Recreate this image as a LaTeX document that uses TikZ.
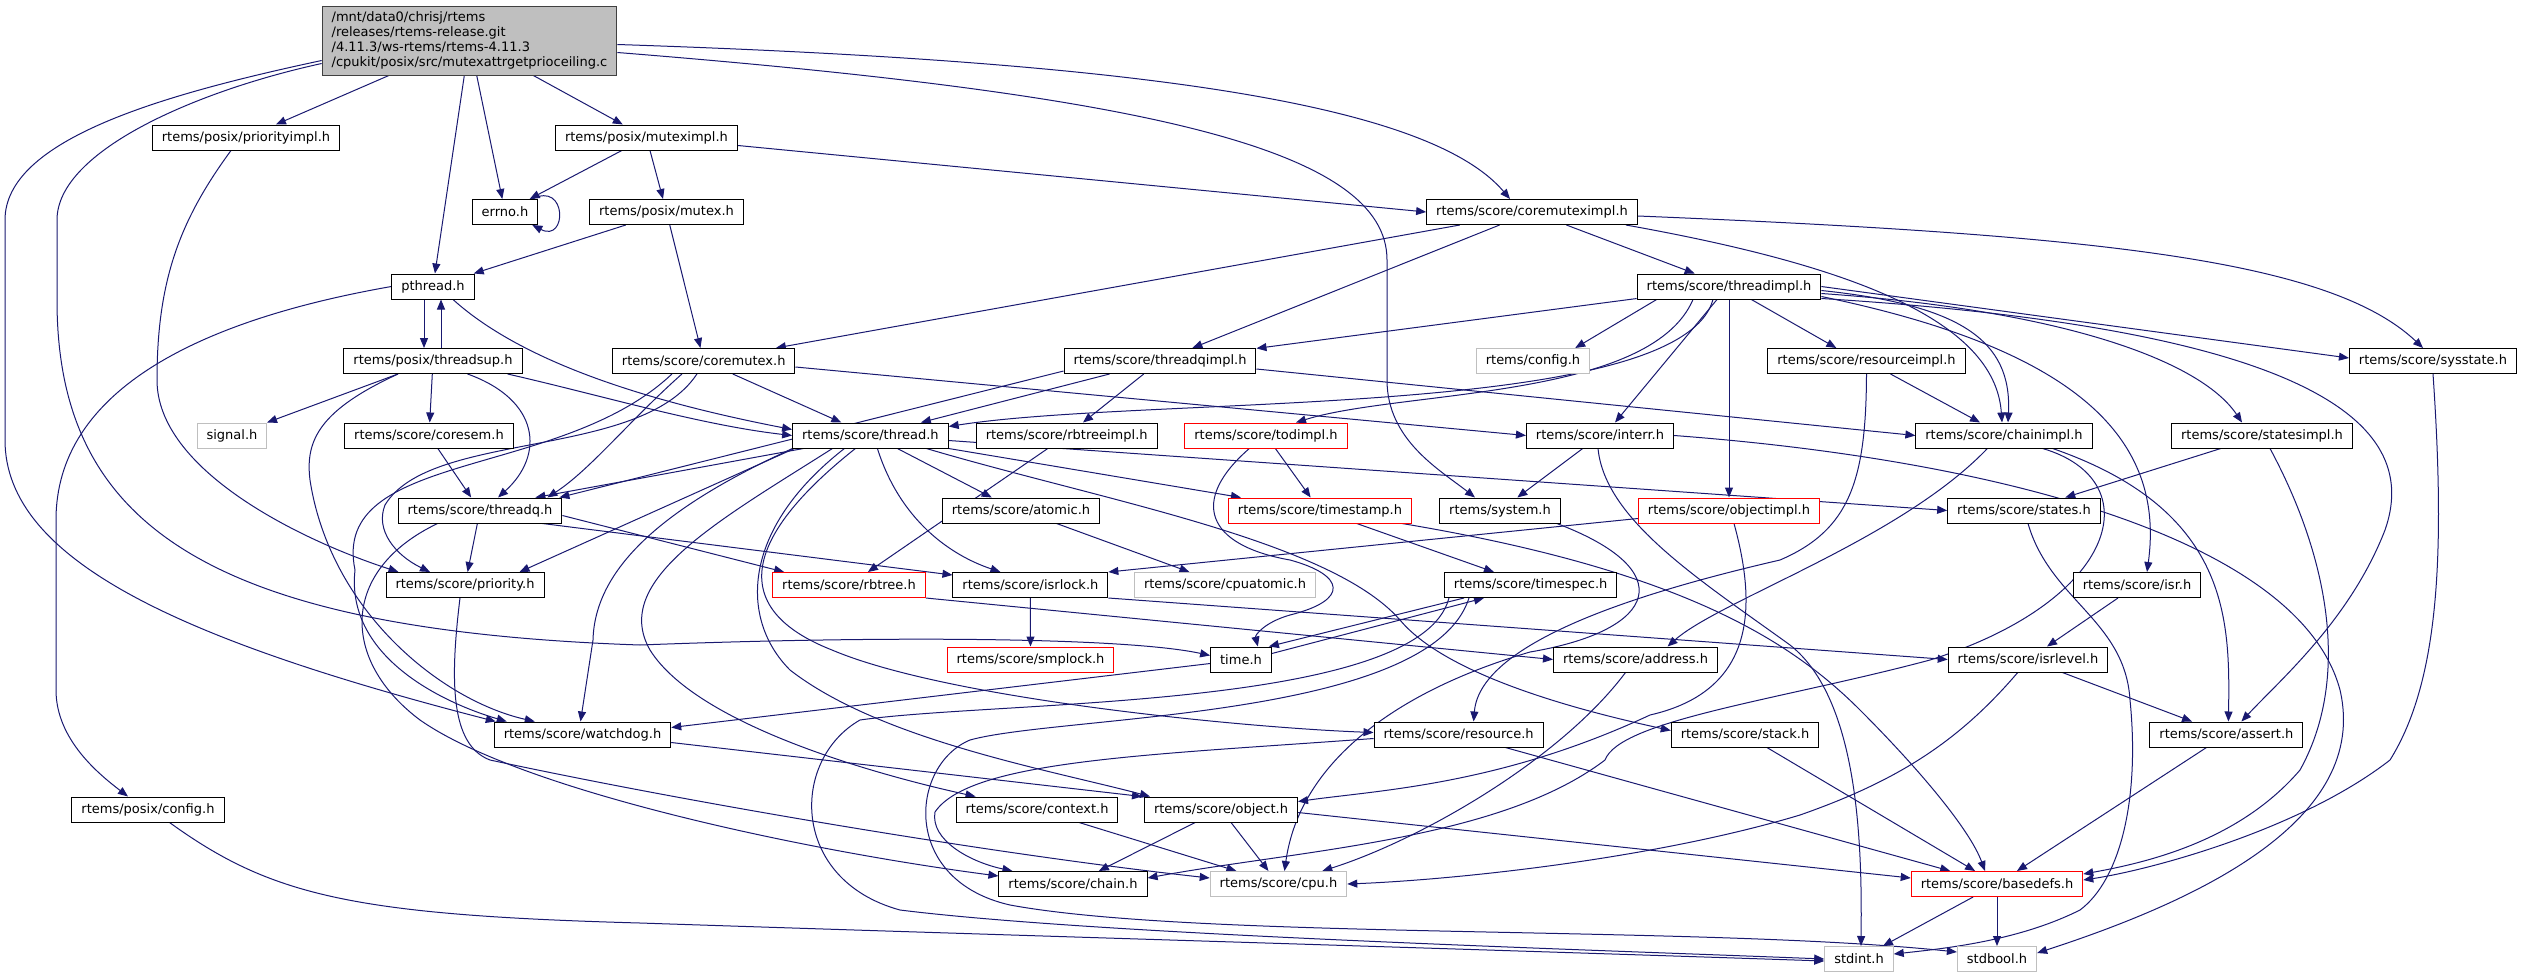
\documentclass[tikz,border=0pt]{standalone}
\usepackage{fontspec}
\setmainfont{DejaVu Sans}
\usetikzlibrary{arrows.meta,calc,backgrounds}
\definecolor{edgeblue}{RGB}{25, 25, 112}
\definecolor{nodegray}{RGB}{191, 191, 191}
\definecolor{nodered}{RGB}{255, 0, 0}
\definecolor{srcborder}{RGB}{64, 64, 64}

\begin{document}
\begin{tikzpicture}[
    x=1pt, y=-1pt,
    header/.style={rectangle, draw=black, line width=1pt, fill=white, minimum height=25pt, inner xsep=9.5pt, inner ysep=0pt, font=\fontsize{13}{14.8}\selectfont, text=black},
    sysheader/.style={header, draw=nodegray},
    partial/.style={header, draw=nodered},
    source/.style={header, draw=srcborder, fill=nodegray, align=left, minimum height=69pt},
    incl/.style={-{Triangle[length=10pt, width=8pt]}, draw=edgeblue, line width=1pt}
  ]
  \useasboundingbox (0,0) rectangle (2524,977);

  % Source file
  \node[source] (src) at (469.5, 40.5) {/mnt/data0/chrisj/rtems\\/releases/rtems-release.git\\/4.11.3/ws-rtems/rtems-4.11.3\\/cpukit/posix/src/mutexattrgetprioceiling.c};

  % POSIX headers
  \node[header] (prio_impl) at (246, 137.5) {rtems/posix/priorityimpl.h};
  \node[header] (mutex_impl) at (646.5, 137.5) {rtems/posix/muteximpl.h};
  \node[header] (errno) at (505, 212) {errno.h};
  \node[header] (posix_mutex) at (666.5, 212) {rtems/posix/mutex.h};
  \node[header] (coremutex_impl) at (1532, 212) {rtems/score/coremuteximpl.h};
  \node[header] (pthread) at (433, 286.5) {pthread.h};
  \node[header] (thread_impl) at (1729, 286.5) {rtems/score/threadimpl.h};

  % Row 4
  \node[header] (threadsup) at (433, 361) {rtems/posix/threadsup.h};
  \node[header] (coremutex) at (703.7, 361) {rtems/score/coremutex.h};
  \node[header] (threadq_impl) at (1160, 361) {rtems/score/threadqimpl.h};
  \node[sysheader] (rtems_config) at (1533, 361) {rtems/config.h};
  \node[header] (resource_impl) at (1866.5, 361) {rtems/score/resourceimpl.h};
  \node[header] (sysstate) at (2433, 361) {rtems/score/sysstate.h};

  % Row 5
  \node[sysheader] (signal) at (232, 435.5) {signal.h};
  \node[header] (coresem) at (429, 435.5) {rtems/score/coresem.h};
  \node[header] (thread) at (870.4, 435.5) {rtems/score/thread.h};
  \node[header] (rbtree_impl) at (1066.7, 435.5) {rtems/score/rbtreeimpl.h};
  \node[partial] (tod_impl) at (1266, 435.5) {rtems/score/todimpl.h};
  \node[header] (interr) at (1600, 435.5) {rtems/score/interr.h};
  \node[header] (chain_impl) at (2004, 435.5) {rtems/score/chainimpl.h};
  \node[header] (states_impl) at (2262, 435.5) {rtems/score/statesimpl.h};

  % Row 6
  \node[header] (threadq) at (480, 510.5) {rtems/score/threadq.h};
  \node[header] (atomic) at (1021, 510.5) {rtems/score/atomic.h};
  \node[partial] (timestamp) at (1320, 510.5) {rtems/score/timestamp.h};
  \node[header] (system) at (1500, 510.5) {rtems/system.h};
  \node[partial] (object_impl) at (1729, 510.5) {rtems/score/objectimpl.h};
  \node[header] (states) at (2024, 510.5) {rtems/score/states.h};

  % Row 7
  \node[header] (priority) at (465, 585) {rtems/score/priority.h};
  \node[partial] (rbtree) at (849, 585) {rtems/score/rbtree.h};
  \node[header] (isrlock) at (1030.4, 585) {rtems/score/isrlock.h};
  \node[sysheader] (cpuatomic) at (1225, 585) {rtems/score/cpuatomic.h};
  \node[header] (timespec) at (1530.7, 585) {rtems/score/timespec.h};
  \node[header] (isr) at (2137, 585) {rtems/score/isr.h};

  % Row 8
  \node[partial] (smplock) at (1030.5, 659.5) {rtems/score/smplock.h};
  \node[header] (time) at (1241, 659.5) {time.h};
  \node[header] (address) at (1635.5, 659.5) {rtems/score/address.h};
  \node[header] (isrlevel) at (2028, 659.5) {rtems/score/isrlevel.h};

  % Row 9
  \node[header] (watchdog) at (582.5, 734.5) {rtems/score/watchdog.h};
  \node[header] (resource) at (1458.6, 734.5) {rtems/score/resource.h};
  \node[header] (stack) at (1745, 734.5) {rtems/score/stack.h};
  \node[header] (assert) at (2226.4, 734.5) {rtems/score/assert.h};

  % Row 10 and below
  \node[header] (posix_config) at (148, 809.5) {rtems/posix/config.h};
  \node[header] (context) at (1037, 809.5) {rtems/score/context.h};
  \node[header] (object) at (1221, 809.5) {rtems/score/object.h};
  \node[header] (chain) at (1073, 884) {rtems/score/chain.h};
  \node[sysheader] (cpu) at (1278.5, 884) {rtems/score/cpu.h};
  \node[partial] (basedefs) at (1997, 884) {rtems/score/basedefs.h};
  \node[sysheader] (stdint) at (1859, 959) {stdint.h};
  \node[sysheader] (stdbool) at (1997, 959) {stdbool.h};

  \begin{scope}[on background layer]
  % Includes of the source file
  \draw[incl] (src) -- (prio_impl);
  \draw[incl] (src) -- (pthread);
  \draw[incl] (src) -- (errno);
  \draw[incl] (src) -- (mutex_impl);
  \draw[incl] ($(src.east)+(0,4)$) .. controls (1150,62) and (1430,105) .. ($(coremutex_impl.north)+(-22,0)$);
  \draw[incl] ($(src.east)+(0,12)$) .. controls (1150,95) and (1387,150) .. (1387,260) -- (1387,380) .. controls (1387,440) and (1440,470) .. ($(system.north)+(-25,0)$);
  \draw[incl] ($(src.west)+(0,20)$) .. controls (160,95) and (5,140) .. (5,220) -- (5,440) .. controls (5,560) and (180,640) .. ($(watchdog.north west)+(2,0)$);
  \draw[incl] ($(src.west)+(0,23)$) .. controls (200,90) and (57,150) .. (57,220) -- (57,300) .. controls (57,520) and (200,630) .. (640,645) .. controls (900,635) and (1130,638) .. ($(time.west)+(0,-4)$);

  % errno includes itself
  \draw[incl] ($(errno.north east)+(-6,0)$) .. controls +(35,-18) and +(35,18) .. ($(errno.south east)+(-6,0)$);

  % POSIX layer
  \draw[incl] ($(prio_impl.south)+(-15,0)$) .. controls (180,220) and (157,280) .. (157,380) .. controls (157,470) and (300,540) .. ($(priority.north west)+(13,0)$);
  \draw[incl] (mutex_impl) -- (errno);
  \draw[incl] (mutex_impl) -- (posix_mutex);
  \draw[incl] ($(mutex_impl.east)+(0,8)$) -- (coremutex_impl.west);
  \draw[incl] (posix_mutex) -- (pthread);
  \draw[incl] (posix_mutex) -- (coremutex);
  \draw[incl] ($(pthread.south)+(-9,0)$) -- ($(threadsup.north)+(-9,0)$);
  \draw[incl] ($(threadsup.north)+(8,0)$) -- ($(pthread.south)+(8,0)$);
  \draw[incl] ($(pthread.south)+(20,0)$) .. controls (520,360) and (640,400) .. ($(thread.west)+(0,-6)$);
  \draw[incl] (pthread.west) .. controls (200,320) and (56,390) .. (56,520) -- (56,690) .. controls (56,740) and (100,775) .. ($(posix_config.north)+(-20,0)$);
  \draw[incl] (threadsup) -- (signal);
  \draw[incl] (threadsup) -- (coresem);
  \draw[incl] ($(threadsup.south east)+(-55,0)$) .. controls (540,400) and (545,455) .. ($(threadq.north)+(18,0)$);
  \draw[incl] ($(threadsup.south east)+(-15,0)$) .. controls (600,395) and (700,425) .. (thread.west);
  \draw[incl] ($(threadsup.south)+(-35,0)$) .. controls (320,410) and (305,440) .. (310,480) .. controls (330,610) and (440,700) .. ($(watchdog.north west)+(41,0)$);
  \draw[incl] (coresem) -- (threadq);

  % Core mutex
  \draw[incl] (coremutex_impl) -- (coremutex);
  \draw[incl] (coremutex_impl) -- (threadq_impl);
  \draw[incl] (coremutex_impl) -- (thread_impl);
  \draw[incl] ($(coremutex_impl.south east)+(-12,0)$) .. controls (1850,265) and (1995,320) .. ($(chain_impl.north)+(-2,0)$);
  \draw[incl] ($(coremutex_impl.east)+(0,4)$) .. controls (2100,235) and (2330,260) .. ($(sysstate.north)+(-10,0)$);
  \draw[incl] (coremutex) -- (thread);
  \draw[incl] ($(coremutex.south west)+(70,0)$) .. controls (630,420) and (590,470) .. ($(threadq.north east)+(-15,0)$);
  \draw[incl] ($(coremutex.south west)+(85,0)$) .. controls (640,460) and (430,430) .. (385,505) .. controls (375,530) and (395,555) .. ($(priority.north)+(-35,0)$);
  \draw[incl] ($(coremutex.south west)+(60,0)$) .. controls (560,480) and (330,450) .. (355,570) .. controls (345,660) and (450,705) .. ($(watchdog.north west)+(13,0)$);
  \draw[incl] ($(coremutex.east)+(0,6)$) -- (interr.west);

  % Thread queue impl
  \draw[incl] (threadq_impl) -- (thread);
  \draw[incl] (threadq_impl) -- (rbtree_impl);
  \draw[incl] ($(threadq_impl.west)+(0,10)$) -- ($(threadq.north east)+(-3,0)$);
  \draw[incl] ($(threadq_impl.east)+(0,8)$) -- (chain_impl.west);

  % Thread impl
  \draw[incl] ($(thread_impl.south)+(-16,0)$) .. controls (1680,420) and (1150,395) .. ($(thread.north east)+(0,4)$);
  \draw[incl] (thread_impl) -- (threadq_impl);
  \draw[incl] ($(thread_impl.south west)+(20,0)$) -- ($(rtems_config.north east)+(-15,0)$);
  \draw[incl] ($(thread_impl.south)+(-36,0)$) .. controls (1650,400) and (1400,390) .. ($(tod_impl.north)+(30,0)$);
  \draw[incl] ($(thread_impl.south)+(-12,0)$) -- ($(interr.north)+(15,0)$);
  \draw[incl] (thread_impl) -- (object_impl);
  \draw[incl] ($(thread_impl.south east)+(-70,0)$) -- ($(resource_impl.north west)+(69,0)$);
  \draw[incl] ($(thread_impl.east)+(0,4)$) .. controls (1960,305) and (2012,340) .. ($(chain_impl.north)+(4,0)$);
  \draw[incl] ($(thread_impl.east)+(0,7)$) .. controls (2060,310) and (2200,360) .. ($(states_impl.north)+(-20,0)$);
  \draw[incl] (thread_impl.east) -- ($(sysstate.west)+(0,-3)$);
  \draw[incl] ($(thread_impl.east)+(0,10)$) .. controls (2080,350) and (2165,440) .. ($(isr.north)+(10,0)$);
  \draw[incl] ($(thread_impl.east)+(0,12)$) .. controls (2330,330) and (2420,430) .. (2385,530) .. controls (2350,620) and (2280,680) .. ($(assert.north)+(15,0)$);

  % Resource impl and system state
  \draw[incl] (resource_impl) -- (chain_impl);
  \draw[incl] (resource_impl.south) .. controls (1866,480) and (1850,530) .. (1780,560) .. controls (1650,590) and (1480,640) .. ($(resource.north)+(15,0)$);
  \draw[incl] (sysstate.south) .. controls (2445,550) and (2440,680) .. (2390,760) .. controls (2300,830) and (2150,870) .. ($(basedefs.east)+(0,-4)$);

  % Thread
  \draw[incl] ($(thread.south)+(-78,0)$) .. controls (680,500) and (595,560) .. (593,640) -- ($(watchdog.north)+(-2,0)$);
  \draw[incl] ($(thread.south)+(-76,0)$) -- ($(priority.north east)+(-25,0)$);
  \draw[incl] ($(thread.south)+(-67,0)$) -- ($(threadq.north east)+(-27,0)$);
  \draw[incl] ($(thread.south)+(-38,0)$) .. controls (720,520) and (610,580) .. (650,650) .. controls (700,730) and (900,780) .. ($(context.north west)+(20,0)$);
  \draw[incl] ($(thread.south)+(-26,0)$) .. controls (740,530) and (740,620) .. (790,670) .. controls (880,740) and (1050,770) .. ($(object.north west)+(6,0)$);
  \draw[incl] ($(thread.south)+(-15,0)$) .. controls (740,540) and (730,610) .. (832,650) .. controls (950,700) and (1250,728) .. ($(resource.west)+(0,-2)$);
  \draw[incl] ($(thread.south)+(7,0)$) .. controls (900,520) and (950,555) .. ($(isrlock.north west)+(48,0)$);
  \draw[incl] ($(thread.south)+(27,0)$) -- ($(atomic.north west)+(50,0)$);
  \draw[incl] ($(thread.south)+(56,0)$) .. controls (1100,500) and (1330,540) .. (1400,620) .. controls (1450,680) and (1600,715) .. ($(stack.west)+(0,-4)$);
  \draw[incl] (thread.south east) -- ($(timestamp.north west)+(13,0)$);
  \draw[incl] ($(thread.east)+(0,5)$) -- (states.west);

  % Thread queue
  \draw[incl] (threadq) -- (priority);
  \draw[incl] ($(threadq.east)+(0,5)$) -- ($(rbtree.north west)+(12,0)$);
  \draw[incl] ($(threadq.south east)+(-20,0)$) -- ($(isrlock.west)+(0,-10)$);
  \draw[incl] ($(threadq.south west)+(40,0)$) .. controls (340,570) and (340,660) .. (420,720) .. controls (520,790) and (800,850) .. ($(chain.west)+(0,-8)$);
  \draw[incl] ($(priority.south)+(-5,0)$) .. controls (450,680) and (450,745) .. (490,760) .. controls (700,805) and (1000,855) .. ($(cpu.west)+(0,-6)$);

  % Middle of the score
  \draw[incl] (rbtree_impl) -- (rbtree);
  \draw[incl] (rbtree.south east) -- (address.west);
  \draw[incl] (isrlock) -- (smplock);
  \draw[incl] (isrlock.south east) -- (isrlevel.west);
  \draw[incl] (atomic) -- (cpuatomic);
  \draw[incl] (tod_impl) -- (timestamp);
  \draw[incl] ($(tod_impl.south west)+(65,0)$) .. controls (1190,500) and (1205,545) .. (1290,560) .. controls (1345,575) and (1350,600) .. (1290,615) .. controls (1265,622) and (1255,635) .. ($(time.north east)+(-14,0)$);
  \draw[incl] (timestamp) -- (timespec);
  \draw[incl] ($(timestamp.south east)+(-10,0)$) .. controls (1680,570) and (1790,640) .. (1860,710) .. controls (1920,770) and (1970,830) .. ($(basedefs.north)+(-12,0)$);
  \draw[incl] (interr) -- (system);
  \draw[incl] ($(interr.south)+(-2,0)$) .. controls (1605,520) and (1700,580) .. (1790,645) .. controls (1860,700) and (1862,850) .. ($(stdint.north)+(2,0)$);
  \draw[incl] (interr.east) .. controls (2000,460) and (2300,540) .. (2340,690) .. controls (2370,820) and (2200,900) .. ($(stdbool.east)+(0,-6)$);
  \draw[incl] ($(object_impl.west)+(0,8)$) -- (isrlock.north east);
  \draw[incl] ($(object_impl.south)+(5,0)$) .. controls (1755,600) and (1760,690) .. (1650,715) .. controls (1500,785) and (1380,790) .. ($(object.east)+(0,-8)$);
  \draw[incl] ($(system.south east)+(-4,0)$) .. controls (1680,570) and (1660,630) .. (1530,652) .. controls (1400,690) and (1300,760) .. ($(cpu.north)+(6,0)$);

  % Interrupts, states, chains
  \draw[incl] (isr) -- (isrlevel);
  \draw[incl] (isrlevel) -- (assert);
  \draw[incl] ($(isrlevel.south west)+(70,0)$) .. controls (1960,740) and (1900,780) .. (1800,815) .. controls (1650,860) and (1450,880) .. (cpu.east);
  \draw[incl] (states_impl) -- (states);
  \draw[incl] ($(states_impl.south)+(8,0)$) .. controls (2330,560) and (2350,680) .. (2300,770) .. controls (2240,840) and (2150,862) .. ($(basedefs.east)+(0,-10)$);
  \draw[incl] ($(states.south)+(4,0)$) .. controls (2050,600) and (2125,620) .. (2130,700) .. controls (2140,800) and (2120,880) .. (2080,910) .. controls (2020,940) and (1950,948) .. ($(stdint.east)+(0,-5)$);
  \draw[incl] ($(chain_impl.south west)+(72,0)$) .. controls (1900,540) and (1720,600) .. ($(address.north)+(32,0)$);
  \draw[incl] ($(chain_impl.south east)+(-50,0)$) .. controls (2150,480) and (2120,600) .. (1930,660) .. controls (1780,700) and (1620,720) .. (1605,760) .. controls (1500,840) and (1300,850) .. ($(chain.east)+(0,-6)$);
  \draw[incl] ($(chain_impl.south east)+(-40,0)$) .. controls (2230,510) and (2230,620) .. ($(assert.north)+(2,0)$);

  % Bottom rows
  \draw[incl] (assert) -- (basedefs);
  \draw[incl] ($(address.south)+(-10,0)$) .. controls (1560,760) and (1420,840) .. ($(cpu.north east)+(-25,0)$);
  \draw[incl] (stack) -- (basedefs);
  \draw[incl] (resource) -- (basedefs);
  \draw[incl] ($(resource.west)+(0,4)$) .. controls (1150,755) and (970,760) .. (935,812) .. controls (930,840) and (970,862) .. ($(chain.north west)+(14,0)$);
  \draw[incl] ($(watchdog.east)+(0,8)$) -- ($(object.north west)+(-2,0)$);
  \draw[incl] ($(time.west)+(0,4)$) -- ($(watchdog.north east)+(0,6)$);
  \draw[incl] ($(timespec.south west)+(20,0)$) -- ($(time.north east)+(-3,0)$);
  \draw[incl] ($(time.east)+(0,-6)$) -- ($(timespec.south west)+(40,0)$);
  \draw[incl] ($(timespec.south west)+(5,0)$) .. controls (1420,710) and (1000,700) .. (860,720) .. controls (790,760) and (790,880) .. (900,910) .. controls (1100,935) and (1600,950) .. (stdint.west);
  \draw[incl] ($(timespec.south west)+(25,0)$) .. controls (1430,720) and (1060,715) .. (970,740) .. controls (910,765) and (900,880) .. (1010,905) .. controls (1200,940) and (1700,925) .. ($(stdbool.west)+(0,-7)$);
  \draw[incl] (object) -- (chain);
  \draw[incl] (object) -- (cpu);
  \draw[incl] ($(object.east)+(0,3)$) -- ($(basedefs.west)+(0,-6)$);
  \draw[incl] (context) -- (cpu);
  \draw[incl] ($(posix_config.south east)+(-55,0)$) .. controls (270,895) and (350,915) .. (640,923) .. controls (1000,935) and (1500,950) .. ($(stdint.west)+(0,2)$);
  \draw[incl] (basedefs) -- (stdint);
  \draw[incl] (basedefs) -- (stdbool);
  \end{scope}

\end{tikzpicture}
\end{document}
